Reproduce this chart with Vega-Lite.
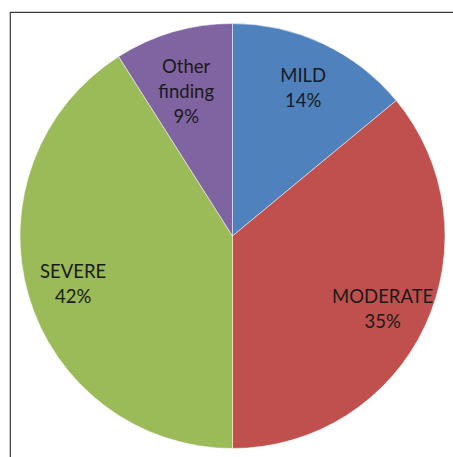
{
  "$schema": "https://vega.github.io/schema/vega-lite/v6.json",
  "width": 445,
  "height": 448,
  "autosize": {"type": "none"},
  "padding": {"left": 10, "top": 12, "right": 0, "bottom": 0},
  "background": "white",
  "view": {"stroke": "#3a3a3a", "strokeWidth": 1.2, "fill": "white"},
  "data": {
    "values": [
      {"category": "MILD", "value": 14, "label": "MILD\n14%", "order": 1},
      {"category": "MODERATE", "value": 36, "label": "MODERATE\n35%", "order": 2},
      {"category": "SEVERE", "value": 41, "label": "SEVERE\n42%", "order": 3},
      {"category": "Other finding", "value": 9, "label": "Other\nfinding\n9%", "order": 4}
    ]
  },
  "encoding": {
    "theta": {"field": "value", "type": "quantitative", "stack": true},
    "order": {"field": "order", "type": "quantitative"}
  },
  "layer": [
    {
      "mark": {"type": "arc", "outerRadius": 212.5, "stroke": "white", "strokeWidth": 0.5},
      "encoding": {
        "color": {
          "field": "category",
          "type": "nominal",
          "scale": {
            "domain": ["MILD", "MODERATE", "SEVERE", "Other finding"],
            "range": ["#4F81BD", "#C0504D", "#9BBB59", "#8064A2"]
          },
          "legend": null
        }
      }
    },
    {
      "mark": {
        "type": "text",
        "radius": 166,
        "dy": -10,
        "font": "Lato",
        "fontSize": 18.5,
        "lineBreak": "\n",
        "lineHeight": 25,
        "fill": "#1a1a1a",
        "align": "center",
        "baseline": "middle"
      },
      "encoding": {"text": {"field": "label", "type": "nominal"}}
    }
  ]
}
